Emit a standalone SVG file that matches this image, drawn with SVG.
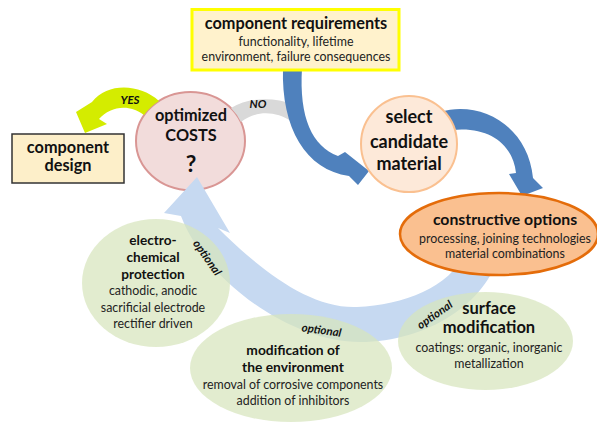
<svg xmlns="http://www.w3.org/2000/svg" width="597" height="423" viewBox="0 0 597 423">
<style>
text{font-family:Lato,"Liberation Sans",sans-serif;fill:#111;text-anchor:middle}
.t{font-weight:bold;font-size:16.3px}
.s{font-size:12.4px;fill:#222}
.lbl{font-weight:bold;font-style:italic;font-size:11.5px}
.green{fill:#d7e4bd;fill-opacity:0.72}
</style>
<rect width="597" height="423" fill="#fff"/>
<g id="costs">
<ellipse cx="190.5" cy="141" rx="54.5" ry="49" fill="#f2dcdb" stroke="#d99694" stroke-width="2"/>
<text class="t" x="191" y="121">optimized</text>
<text class="t" x="191" y="141">COSTS</text>
<text class="t" x="191" y="172" style="font-size:23px">?</text>
</g>
<g id="connectors">
<path d="M465,250 C455,285 405,305 357,307 C310,309 260,270 218,228 L230,233 L197,177 L164,213 L181,216 C205,280 290,342 360,342 C430,342 490,300 500,250 Z" fill="#c6d9f1"/>
<path d="M231,108 C248,97 275,97 292,104 L292,122 C275,110 255,111 241,122 A54.5 49 0 0 0 231,108 Z" fill="#d9d9d9"/>
<path d="M302,68 C299,118 312,146 338,156 L345,152 L369,171 L358,185 L349,176 C306,170 281,128 283,68 Z" fill="#4f81bd"/>
<path d="M440,112 C480,100 528,125 533,178 L543,188 L522,196 L509,174 L516,173 C513,145 490,126 452,130 Z" fill="#4f81bd"/>
<path d="M159,101 C140,84 108,82 92,102 L76,112 L85,133 L107,124 L99,119 C110,107 128,103 144,115 A54.5 49 0 0 1 159,101 Z" fill="#d4ec00"/>
<text class="lbl" x="130" y="104">YES</text>
<text class="lbl" x="258" y="108">NO</text>
</g>
<g id="component-design">
<rect x="12" y="134" width="112" height="49" fill="#fdefc9" stroke="#333" stroke-width="1.5"/>
<text class="t" x="68" y="153">component</text>
<text class="t" x="68" y="171">design</text>
</g>
<g id="requirements">
<rect x="192" y="9.5" width="207" height="60.5" fill="#fff2cc" stroke="#ffff00" stroke-width="3"/>
<text class="t" x="296" y="29">component requirements</text>
<text class="s" x="296" y="46">functionality, lifetime</text>
<text class="s" x="296" y="61">environment, failure consequences</text>
</g>
<g id="select">
<circle cx="409" cy="144" r="48" fill="#fde9d9" stroke="#fac090" stroke-width="2"/>
<text class="t" x="409" y="123" style="font-size:18px">select</text>
<text class="t" x="409" y="148" style="font-size:18px">candidate</text>
<text class="t" x="409" y="170" style="font-size:18px">material</text>
</g>
<g id="constructive">
<ellipse cx="499" cy="234" rx="99" ry="41" fill="#fac090" stroke="#e46c0a" stroke-width="2.5"/>
<text class="t" x="505" y="225" style="font-size:15.8px">constructive options</text>
<text class="s" x="505" y="243">processing, joining technologies</text>
<text class="s" x="505" y="258">material combinations</text>
</g>
<g id="electrochemical">
<ellipse class="green" cx="156" cy="283" rx="74" ry="64"/>
<text class="t" x="153" y="245" style="font-size:13.6px">electro-</text>
<text class="t" x="153" y="262" style="font-size:13.6px">chemical</text>
<text class="t" x="153" y="279" style="font-size:13.6px">protection</text>
<text class="s" x="153" y="295">cathodic, anodic</text>
<text class="s" x="153" y="312">sacrificial electrode</text>
<text class="s" x="153" y="328">rectifier driven</text>
</g>
<g id="environment">
<ellipse class="green" cx="291" cy="368" rx="101" ry="54"/>
<text class="t" x="293" y="355" style="font-size:13.8px">modification of</text>
<text class="t" x="293" y="372" style="font-size:13.8px">the environment</text>
<text class="s" x="293" y="389">removal of corrosive components</text>
<text class="s" x="293" y="405">addition of inhibitors</text>
</g>
<g id="surface">
<ellipse class="green" cx="485.5" cy="341" rx="87.5" ry="49"/>
<text class="t" x="489" y="314" style="font-size:16.5px">surface</text>
<text class="t" x="489" y="333" style="font-size:16.5px">modification</text>
<text class="s" x="489" y="352">coatings: organic, inorganic</text>
<text class="s" x="489" y="368">metallization</text>
</g>
<g id="connector-labels">
<text class="lbl" transform="translate(204,260) rotate(55)">optional</text>
<text class="lbl" transform="translate(321,334) rotate(8)">optional</text>
<text class="lbl" transform="translate(437,318) rotate(-35)">optional</text>
</g>
</svg>
